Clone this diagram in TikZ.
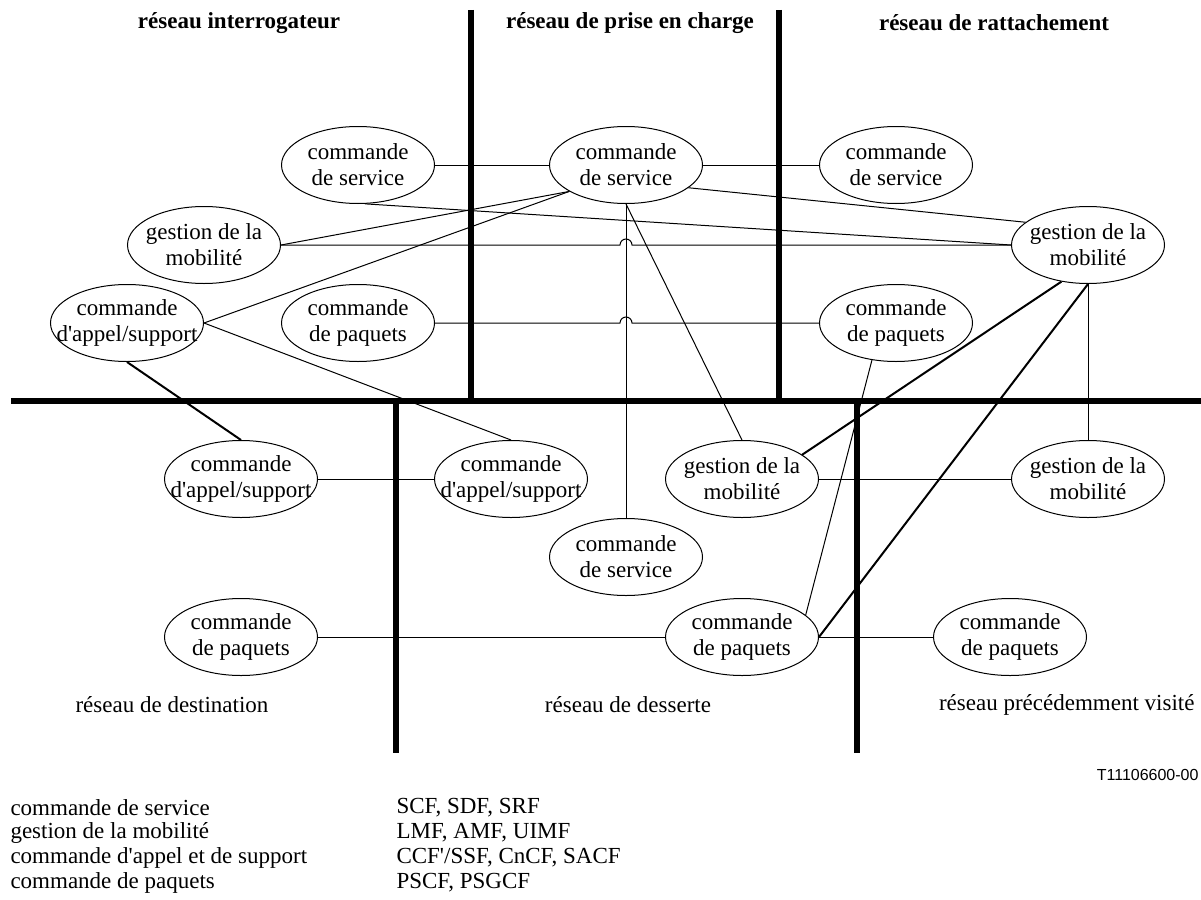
\documentclass[tikz,border=0pt]{standalone}
\usepackage{fontspec}
\setmainfont{Liberation Serif}
\newfontfamily\figidfont{Liberation Sans}
\usetikzlibrary{calc,positioning,shapes}
\tikzstyle{every node}=[line width=1pt]

\begin{document}
\begin{tikzpicture}[x=1pt,y=-1pt]
      \tikzstyle{fnode} = [draw=black, ellipse, minimum width=153pt, minimum height=77pt, inner xsep=-20pt, inner ysep=-3pt, align=center, font=\fontsize{23}{26}\selectfont]
      \tikzstyle{tnode} = [inner sep=0pt, font=\fontsize{23}{26}\selectfont]
      \tikzstyle{hnode} = [inner sep=0pt, font=\bfseries\fontsize{23}{26}\selectfont]
      \tikzstyle{border} = [line width=5.5pt]
      \tikzstyle{link} = [line width=1pt]
      \tikzstyle{tlink} = [line width=2pt]

      \useasboundingbox (0,0) rectangle (1201,899);

      % network borders
      \draw[border] (471,10) -- (471,401);
      \draw[border] (779,10) -- (779,401);
      \draw[border] (11,401) -- (1201,401);
      \draw[border] (396,401) -- (396,753);
      \draw[border] (857,401) -- (857,753);

      \node[hnode] (hInterr) at (239,23) {réseau interrogateur};
      \node[hnode] (hPrise) at (630,23) {réseau de prise en charge};
      \node[hnode] (hRatt) at (994,23) {réseau de rattachement};

      \node[fnode] (cs1) at (358,165) {commande\\de service};
      \node[fnode] (cs2) at (626,165) {commande\\de service};
      \node[fnode] (cs3) at (896,165) {commande\\de service};
      \node[fnode] (gm1) at (204,245) {gestion de la\\mobilité};
      \node[fnode] (gm3) at (1088,245) {gestion de la\\mobilité};
      \node[fnode] (ca1) at (127,323) {commande\\d\textquotesingle appel/support};
      \node[fnode] (cp1) at (358,323) {commande\\de paquets};
      \node[fnode] (cp3) at (896,323) {commande\\de paquets};

      \node[fnode] (ca4) at (241,479) {commande\\d\textquotesingle appel/support};
      \node[fnode] (ca5) at (511,479) {commande\\d\textquotesingle appel/support};
      \node[fnode] (gm5) at (742,479) {gestion de la\\mobilité};
      \node[fnode] (gm6) at (1088,479) {gestion de la\\mobilité};
      \node[fnode] (cs5) at (626,557) {commande\\de service};
      \node[fnode] (cp4) at (241,637) {commande\\de paquets};
      \node[fnode] (cp5) at (742,637) {commande\\de paquets};
      \node[fnode] (cp6) at (1010,637) {commande\\de paquets};

      \node[tnode] (lDest) at (172,705) {réseau de destination};
      \node[tnode] (lDess) at (628,705) {réseau de desserte};
      \node[tnode, anchor=east] (lPrev) at (1195,705) {réseau précédemment visité};
      \node[anchor=east, inner sep=0pt, font=\figidfont\fontsize{16}{18}\selectfont] (figId) at (1199,775) {T11106600-00};

      \draw[link] (cs1.east) -- (cs2.west);
      \draw[link] (cs2.east) -- (cs3.west);
      \draw[link] (cs1.280) -- (gm3.west);
      \draw[link] (gm1.east) -- ($(gm1.east -| cs2.south)+(-6pt,0)$) arc[start angle=180, end angle=0, radius=6pt] -- (gm3.west);
      \draw[link] (cp1.east) -- ($(cp1.east -| cs2.south)+(-6pt,0)$) arc[start angle=180, end angle=0, radius=6pt] -- (cp3.west);
      \draw[link] (gm1.east) -- (cs2.205);
      \draw[link] (ca1.east) -- (cs2.205);
      \draw[link] (ca1.east) -- (ca5.north);
      \draw[tlink] (ca1.south) -- (ca4.north);
      \draw[link] (cs2.south) -- (cs5.north);
      \draw[link] (cs2.south) -- (gm5.north);
      \draw[link] (cs2.340) -- (gm3.160);
      \draw[tlink] (gm3.234) -- (gm5.22);
      \draw[tlink] (gm3.south) -- (cp5.east);
      \draw[link] (gm3.south) -- (gm6.north);
      \draw[link] (cp3.237) -- (cp5.19);
      \draw[link] (ca4.east) -- (ca5.west);
      \draw[link] (gm5.east) -- (gm6.west);
      \draw[link] (cp4.east) -- (cp5.west);
      \draw[link] (cp5.east) -- (cp6.west);

      % legend
      \node[tnode, anchor=west] (key1) at (10,808) {commande de service};
      \node[tnode, anchor=west] (key2) at (10,833) {gestion de la mobilité};
      \node[tnode, anchor=west] (key3) at (10,858) {commande d\textquotesingle appel et de support};
      \node[tnode, anchor=west] (key4) at (10,883) {commande de paquets};
      \node[tnode, anchor=west] (val1) at (396,808) {SCF, SDF, SRF};
      \node[tnode, anchor=west] (val2) at (396,833) {LMF, AMF, UIMF};
      \node[tnode, anchor=west] (val3) at (396,858) {CCF\textquotesingle/SSF, CnCF, SACF};
      \node[tnode, anchor=west] (val4) at (396,883) {PSCF, PSGCF};

    \end{tikzpicture}
\end{document}
